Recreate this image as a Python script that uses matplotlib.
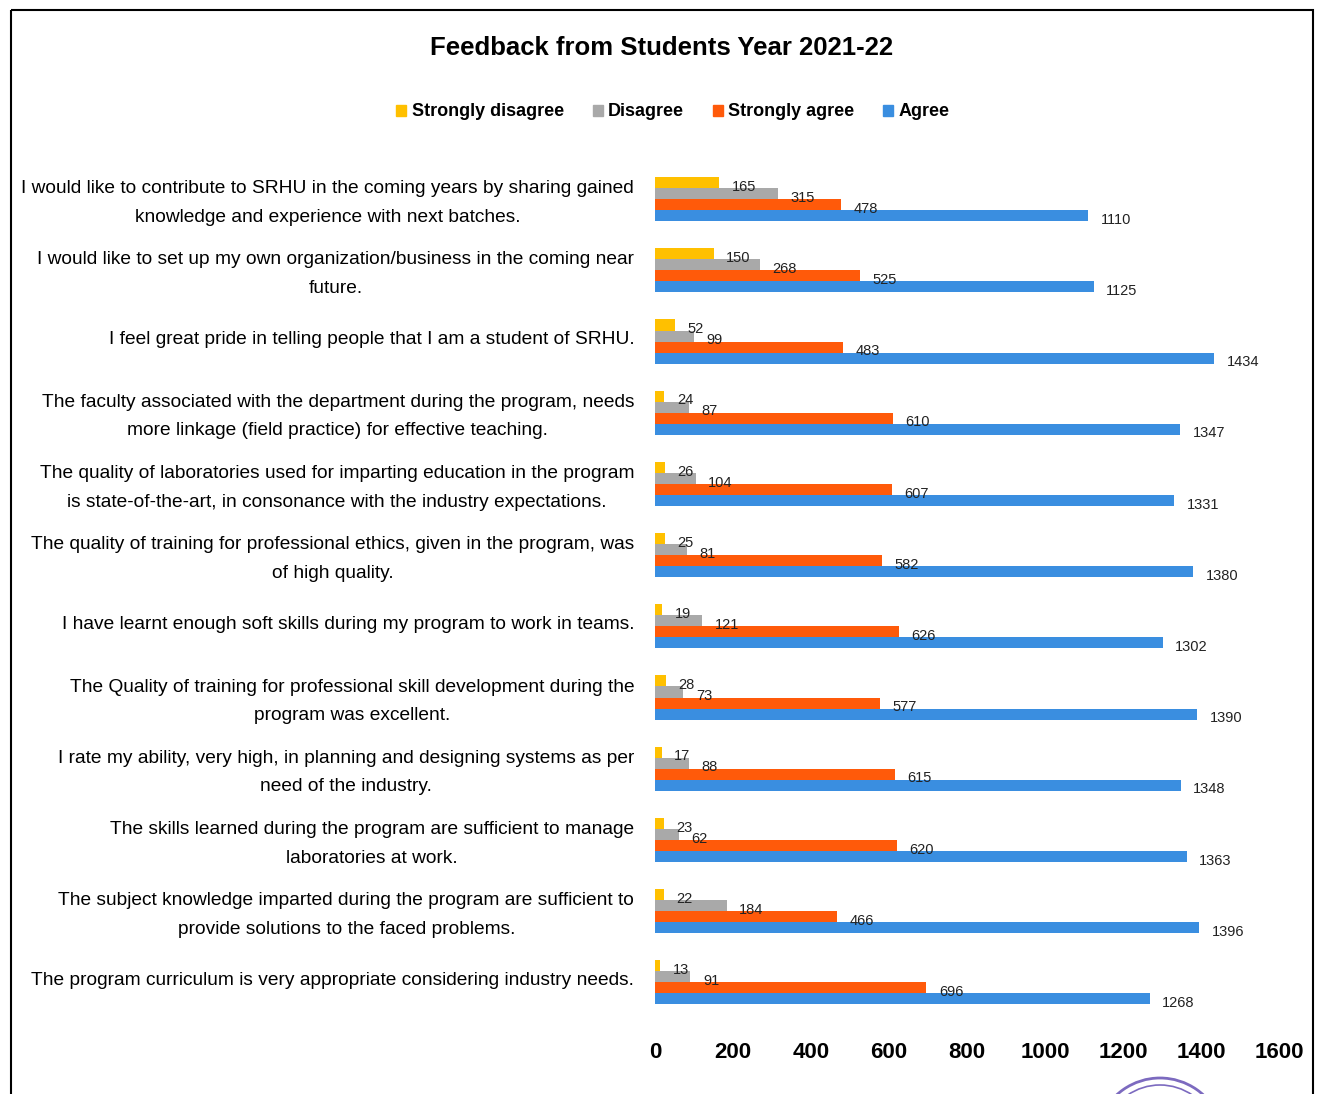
import matplotlib
matplotlib.use("Agg")
import matplotlib.pyplot as plt
import matplotlib.patches as mpatches
import matplotlib.transforms as mtransforms
import numpy as np

plt.rcParams["font.family"] = ["Liberation Sans", "DejaVu Sans"]

# ── data (top to bottom as shown) ─────────────────────────────────────────────
questions = [
    "I would like to contribute to SRHU in the coming years by sharing gained\nknowledge and experience with next batches.",
    "I would like to set up my own organization/business in the coming near\nfuture.",
    "I feel great pride in telling people that I am a student of SRHU.",
    "The faculty associated with the department during the program, needs\nmore linkage (field practice) for effective teaching.",
    "The quality of laboratories used for imparting education in the program\nis state-of-the-art, in consonance with the industry expectations.",
    "The quality of training for professional ethics, given in the program, was\nof high quality.",
    "I have learnt enough soft skills during my program to work in teams.",
    "The Quality of training for professional skill development during the\nprogram was excellent.",
    "I rate my ability, very high, in planning and designing systems as per\nneed of the industry.",
    "The skills learned during the program are sufficient to manage\nlaboratories at work.",
    "The subject knowledge imparted during the program are sufficient to\nprovide solutions to the faced problems.",
    "The program curriculum is very appropriate considering industry needs.",
]
strongly_disagree = [165, 150, 52, 24, 26, 25, 19, 28, 17, 23, 22, 13]
disagree          = [315, 268, 99, 87, 104, 81, 121, 73, 88, 62, 184, 91]
strongly_agree    = [478, 525, 483, 610, 607, 582, 626, 577, 615, 620, 466, 696]
agree             = [1110, 1125, 1434, 1347, 1331, 1380, 1302, 1390, 1348, 1363, 1396, 1268]

series_names  = ["Strongly disagree", "Disagree", "Strongly agree", "Agree"]
series_values = [strongly_disagree, disagree, strongly_agree, agree]
colours       = ["#FFC000", "#A9A9A9", "#FF5A0A", "#3A8EE0"]
x_ticks       = [0, 200, 400, 600, 800, 1000, 1200, 1400, 1600]

# ── figure ────────────────────────────────────────────────────────────────────
W, H = 1326, 1094
fig = plt.figure(figsize=(W / 100, H / 100), dpi=100)

ax = fig.add_axes([655 / W, 59 / H, 624 / W, 875 / H])

n = len(questions)
ypos = np.arange(n)[::-1]          # top question at the top
bar_h = 0.155
offsets = [1.5 * bar_h, 0.5 * bar_h, -0.5 * bar_h, -1.5 * bar_h]

for vals, off, col in zip(series_values, offsets, colours):
    bars = ax.barh(ypos + off, vals, height=bar_h, color=col, linewidth=0)
    for b, v in zip(bars, vals):
        ax.annotate(str(v), (b.get_width(), b.get_y() + b.get_height() / 2),
                    xytext=(9, -3), textcoords="offset points",
                    ha="left", va="center", fontsize=10.5, color="#222222")

ax.set_xlim(0, 1600)
ax.set_ylim(-0.74, n - 1 + 0.55)
ax.set_xticks(x_ticks)
ax.set_xticklabels([str(t) for t in x_ticks], fontsize=16, fontweight="bold")
ax.tick_params(axis="x", length=0, pad=5)
ax.set_yticks(ypos)
ax.set_yticklabels(questions, fontsize=13.8, multialignment="center", linespacing=1.9)
ax.tick_params(axis="y", length=0, pad=15)
# nudge the question labels up a touch to sit centred on each bar group
shift = mtransforms.ScaledTranslation(0, 4 / 100, fig.dpi_scale_trans)
for lbl in ax.get_yticklabels():
    lbl.set_transform(lbl.get_transform() + shift)
for s in ax.spines.values():
    s.set_visible(False)

fig.text(662 / W, 1 - 48 / H, "Feedback from Students Year 2021-22",
         ha="center", va="center", fontsize=18.5, fontweight="bold")

handles = [mpatches.Patch(color=c, label=l) for c, l in zip(colours, series_names)]
leg = fig.legend(handles=handles, loc="center", bbox_to_anchor=(673 / W, 1 - 112 / H),
                 ncol=4, frameon=False, handlelength=0.55, handleheight=0.55,
                 handletextpad=0.3, columnspacing=1.6,
                 prop={"size": 13, "weight": "bold"})

# ── page frame and stamp edge ─────────────────────────────────────────────────
over = fig.add_axes([0, 0, 1, 1], zorder=-1)
over.set_xlim(0, W)
over.set_ylim(H, 0)
over.axis("off")
over.add_patch(mpatches.Rectangle((11, 10), 1302, 1200, fill=False,
                                  edgecolor="black", linewidth=1.5))
for r, lw in [(64, 2.0), (57, 1.2)]:
    over.add_patch(mpatches.Arc((1160, 1142), 2 * r, 2 * r, theta1=200, theta2=340,
                                color="#5B45B0", linewidth=lw, alpha=0.8))

fig.savefig("out.png", dpi=100)
